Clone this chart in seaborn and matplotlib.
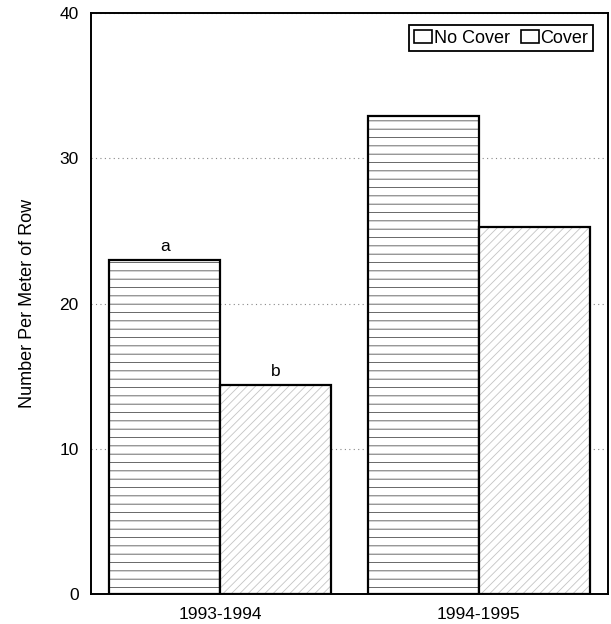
import pandas as pd
import numpy as np
import seaborn as sns
import matplotlib.pyplot as plt
from matplotlib.colors import to_rgba

seasons = ['1993-1994', '1994-1995']
treatments = ['No Cover', 'Cover']
no_cover = [23.0, 32.9]
cover = [14.4, 25.3]
letters_no_cover = ['a', '']
letters_cover = ['b', '']

df = pd.DataFrame({
    'season': seasons * 2,
    'treatment': ['No Cover'] * 2 + ['Cover'] * 2,
    'value': no_cover + cover,
})

sns.set_style('white')
plt.rcParams['font.family'] = ['Liberation Sans', 'DejaVu Sans']
plt.rcParams['hatch.linewidth'] = 0.6
plt.rcParams['text.color'] = 'black'
plt.rcParams['axes.labelcolor'] = 'black'
plt.rcParams['xtick.color'] = 'black'
plt.rcParams['ytick.color'] = 'black'

fig = plt.figure(figsize=(6.11, 6.24), dpi=100)
ax = fig.add_axes([0.149, 0.048, 0.846, 0.931])

sns.barplot(data=df, x='season', y='value', hue='treatment', order=seasons,
            hue_order=treatments, width=0.86, palette=['white', 'white'],
            edgecolor='black', linewidth=1.6, errorbar=None, ax=ax, zorder=2)

hatches = ['--', '////']
hcolors = ['#505050', '#c4c4c4']
for cont, h, hc in zip(ax.containers, hatches, hcolors):
    for p in cont:
        p.set_hatch(h)
        # hatch colour follows edgecolor, so override it separately
        if hasattr(p, 'set_hatchcolor'):
            p.set_hatchcolor(hc)
        else:
            p._hatch_color = to_rgba(hc)

# significance letters
for cont, labs in zip(ax.containers, [letters_no_cover, letters_cover]):
    for p, lab in zip(cont, labs):
        if lab:
            ax.text(p.get_x() + p.get_width() / 2, p.get_height() + 0.4, lab,
                    ha='center', va='bottom', fontsize=12.5)

ax.set_ylim(0, 40)
ax.set_xlim(-0.5, 1.5)
ax.set_yticks([0, 10, 20, 30, 40])
ax.yaxis.grid(True, linestyle=(0, (1, 3)), color='#888888', linewidth=0.8)
ax.set_axisbelow(True)
ax.tick_params(length=0, labelsize=12.5, pad=9)
ax.set_xlabel('')
ax.set_ylabel('Number Per Meter of Row', fontsize=13, labelpad=17)
for s in ax.spines.values():
    s.set_color('black')
    s.set_linewidth(1.4)

leg = ax.legend(loc='upper right', bbox_to_anchor=(0.971, 0.979), borderaxespad=0,
                fancybox=False, edgecolor='black', fontsize=13,
                handlelength=1.0, handleheight=0.75, handletextpad=0.1,
                columnspacing=0.6, ncol=2, borderpad=0.25, framealpha=1)
leg.get_frame().set_linewidth(1.3)
for h in leg.legend_handles:
    h.set_hatch(None)
    h.set_linewidth(1.2)

fig.savefig('out.png', dpi=100)
